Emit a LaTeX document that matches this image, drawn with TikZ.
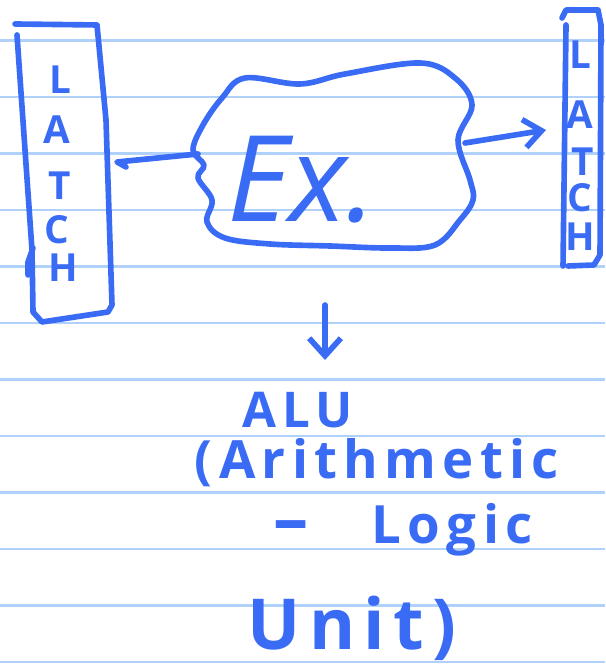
\documentclass[tikz,border=0pt]{standalone}
\usepackage{fontspec}
\setmainfont{Open Sans}
\newfontfamily\handfont[LetterSpace=12]{Open Sans}
\definecolor{inkblue}{HTML}{3A6BF5}
\definecolor{ruleblue}{HTML}{B0D2FA}
\usetikzlibrary{arrows.meta, positioning}

\begin{document}
\begin{tikzpicture}[x=0.01cm, y=-0.01cm,
    ink/.style={inkblue, line width=1.6pt, line cap=round, line join=round},
    letter/.style={inkblue, inner sep=0pt, font=\handfont\bfseries\fontsize{11}{11}\selectfont},
    words/.style={inkblue, inner sep=0pt, font=\handfont\bfseries\fontsize{15}{15}\selectfont}]
    \useasboundingbox (0,0) rectangle (605,668);
    % Ruled paper
    \foreach \y in {40.5,97,...,663}
        \draw[ruleblue, line width=0.6pt] (0,\y) -- (605,\y);
    % Left latch
    \draw[ink] (15,24) -- (97,25) -- (106,120) -- (112,305) -- (108,312)
        -- (42,322) -- (33,312) -- (32,250) -- (17,35);
    \draw[ink] (33,248) -- (28,262) -- (28,275);
    \foreach \ch/\px/\py in {L/60/80, A/57/130, T/60/186, C/57/230, H/63/268}
        \node[letter] (latchin-\ch) at (\px,\py) {\ch};
    % Right latch
    \draw[ink] (562,18) -- (566,10) -- (598,10) -- (601,25) -- (600,255)
        -- (594,265) -- (568,266);
    \draw[ink] (566,25) -- (563,266);
    \foreach \ch/\px/\py in {L/580/55, A/580/115, T/583/162, C/580/198, H/580/237}
        \node[letter] (latchout-\ch) at (\px,\py) {\ch};
    % Execute stage
    \draw[ink] plot[smooth cycle, tension=0.6] coordinates {
        (245,78) (300,84) (345,74) (420,63) (455,78) (472,105) (458,140)
        (470,180) (473,200) (460,220) (435,245) (390,248) (330,246)
        (270,244) (225,238) (207,222) (212,200) (198,178) (204,165)
        (193,150) (203,125) (222,98)};
    \node[inkblue, font=\itshape\fontsize{34}{34}\selectfont] (exec) at (302,180) {Ex.};
    % Connectors
    \coordinate (cloudW) at (198,154);
    \coordinate (latchinE) at (117,162);
    \coordinate (cloudE) at (465,143);
    \coordinate (latchoutW) at (546,130);
    \coordinate (cloudS) at (325,305);
    \coordinate (aluN) at (325,360);
    \draw[ink] (cloudW) -- (latchinE) -- ++(9,5);
    \draw[ink, -{Straight Barb[length=5pt, width=8pt]}] (cloudE) -- (latchoutW);
    \draw[ink, -{Straight Barb[length=5pt, width=9pt]}] (cloudS) -- (aluN);
    % ALU
    \node[words, font=\handfont\bfseries\fontsize{14}{14}\selectfont] (alu) at (298,410) {ALU};
    \node[words] (alufull) at (377,463) {(Arithmetic};
    \node[words] (alulogic) at (403,530) {{\fontsize{20}{15}\selectfont –}\hspace{18pt}Logic};
    \node[words, font=\handfont\bfseries\fontsize{20}{20}\selectfont] (aluunit) at (352,628) {Unit)};
\end{tikzpicture}
\end{document}
